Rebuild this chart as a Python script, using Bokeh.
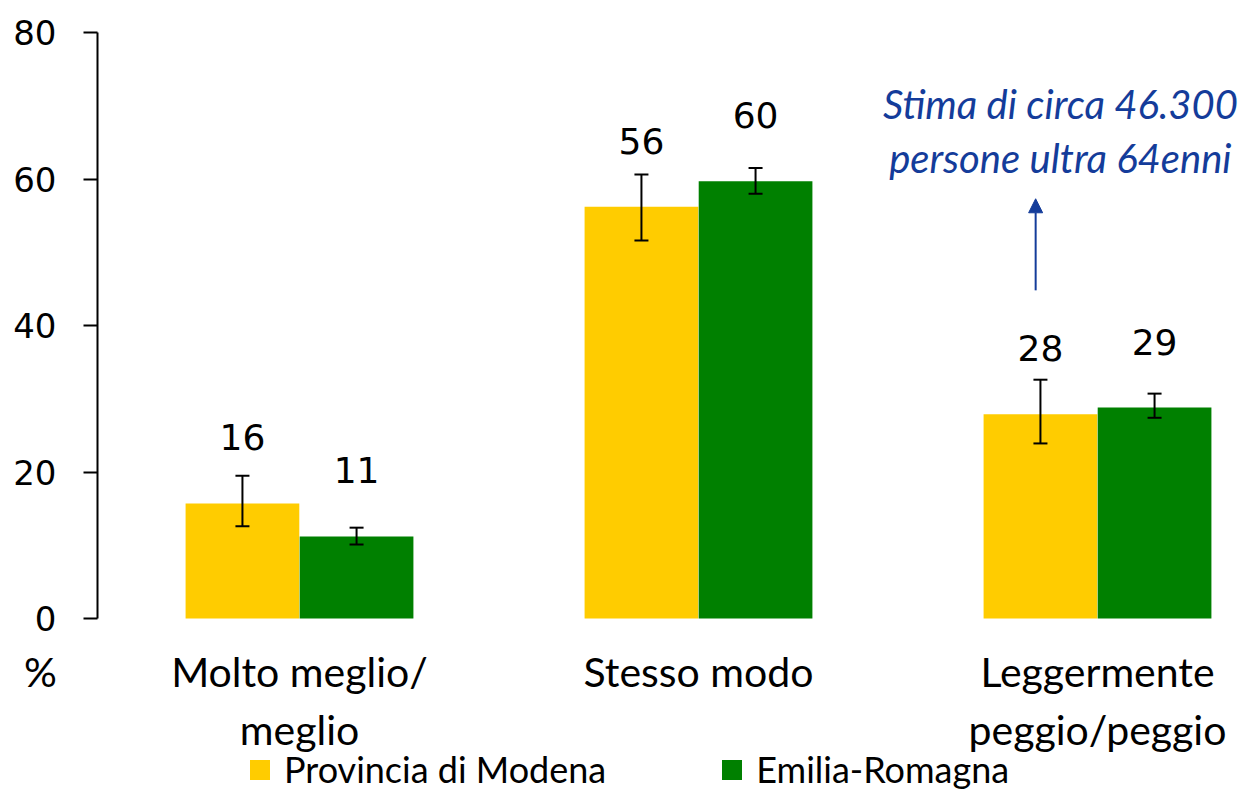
from bokeh.plotting import figure
from bokeh.models import (ColumnDataSource, Range1d, FixedTicker, Whisker, TeeHead,
                          Legend, LegendItem, Arrow, NormalHead, Label)
from bokeh.core.properties import value
from bokeh.embed import file_html
from bokeh.resources import INLINE

categories = ["Molto meglio/\nmeglio", "Stesso modo", "Leggermente\npeggio/peggio"]
series_names = ["Provincia di Modena", "Emilia-Romagna"]
modena = [15.7, 56.2, 27.9]
modena_lo = [12.6, 51.6, 23.9]
modena_hi = [19.5, 60.6, 32.6]
emilia = [11.2, 59.7, 28.8]
emilia_lo = [10.1, 58.0, 27.4]
emilia_hi = [12.4, 61.5, 30.7]
y_ticks = [0, 20, 40, 60, 80]
y_unit = "%"
note_lines = ["Stima di circa 46.300", "persone ultra 64enni"]

YELLOW = "#FFCC00"
GREEN = "#008000"
BLUE = "#143C9A"
CAL = "Lato"

idx = list(range(len(categories)))
off = 0.143
bw = 0.285

# layout geometry (pixels)
W, H = 1240, 794
px_per_cat = 399.0
x0_px = 299.0          # pixel position of first category
axis_px = 97.0         # pixel position of y axis
y_top_px, y_bot_px = 32.0, 618.0
y_max = 80.0
ppu = (y_bot_px - y_top_px) / y_max

x_lo = (0 - x0_px) / px_per_cat
x_hi = (W - x0_px) / px_per_cat
y_hi = y_max + y_top_px / ppu
y_lo = -(H - y_bot_px) / ppu
y_axis_x = (axis_px - x0_px) / px_per_cat
unit_x = (40 - x0_px) / px_per_cat

p = figure(frame_width=W, frame_height=H, output_backend="svg", toolbar_location=None,
           x_range=Range1d(x_lo, x_hi), y_range=Range1d(y_lo, y_hi),
           min_border=0)
p.outline_line_color = None
p.xgrid.visible = False
p.ygrid.visible = False

src_m = ColumnDataSource(dict(x=[i - off for i in idx], top=modena, lo=modena_lo, hi=modena_hi,
                              lab=[str(round(v)) for v in modena]))
src_e = ColumnDataSource(dict(x=[i + off for i in idx], top=emilia, lo=emilia_lo, hi=emilia_hi,
                              lab=[str(round(v)) for v in emilia]))

r_m = p.vbar(x="x", top="top", bottom=0, width=bw, source=src_m, fill_color=YELLOW, line_color=None)
r_e = p.vbar(x="x", top="top", bottom=0, width=bw, source=src_e, fill_color=GREEN, line_color=None)

for src in (src_m, src_e):
    w = Whisker(base="x", lower="lo", upper="hi", source=src, line_color="black", line_width=2,
                level="overlay",
                upper_head=TeeHead(size=14, line_color="black", line_width=2),
                lower_head=TeeHead(size=14, line_color="black", line_width=2))
    p.add_layout(w)
    p.text(x="x", y="top", text="lab", source=src, text_align="center", text_baseline="middle",
           y_offset=-66, text_font=value("DejaVu Sans"), text_font_size="36px", text_color="black")

# y axis (drawn at a fixed data position)
p.yaxis.fixed_location = y_axis_x
p.yaxis.bounds = (0, y_max)
p.yaxis.ticker = FixedTicker(ticks=y_ticks)
p.yaxis.axis_line_color = "black"
p.yaxis.axis_line_width = 2
p.yaxis.major_tick_line_color = "black"
p.yaxis.major_tick_line_width = 2
p.yaxis.major_tick_out = 14
p.yaxis.major_tick_in = 0
p.yaxis.minor_tick_line_color = None
p.yaxis.major_label_standoff = 27
p.yaxis.major_label_text_font = "DejaVu Sans"
p.yaxis.major_label_text_font_size = "34px"
p.yaxis.major_label_text_color = "black"

# x axis (at y = 0)
p.xaxis.fixed_location = 0
p.xaxis.ticker = FixedTicker(ticks=[unit_x] + idx)
overrides = {i: c for i, c in zip(idx, categories)}
overrides[unit_x] = y_unit
p.xaxis.major_label_overrides = overrides
p.xaxis.axis_line_color = None
p.xaxis.major_tick_line_color = None
p.xaxis.minor_tick_line_color = None
p.xaxis.major_label_standoff = 22
p.xaxis.major_label_text_font = CAL
p.xaxis.major_label_text_font_size = "41px"
p.xaxis.major_label_text_color = "black"

# annotation arrow and text
p.add_layout(Arrow(x_start=1.845, y_start=44.8, x_end=1.845, y_end=57.3,
                   line_color=BLUE, line_width=2,
                   end=NormalHead(size=14, fill_color=BLUE, line_color=BLUE)))
for t, yy in zip(note_lines, [70.3, 62.8]):
    p.add_layout(Label(x=1.907, y=yy, text=t, text_align="center", text_baseline="middle",
                       text_font=CAL, text_font_style="italic", text_font_size="40px",
                       text_color=BLUE))

legend = Legend(items=[LegendItem(label=series_names[0], renderers=[r_m]),
                       LegendItem(label=series_names[1], renderers=[r_e])],
                orientation="horizontal", location=(247, 3),
                border_line_color=None, background_fill_alpha=0,
                padding=0, margin=0, spacing=113, label_standoff=12,
                glyph_width=25, glyph_height=25,
                label_text_font=CAL, label_text_font_size="36px", label_text_color="black")
p.add_layout(legend)

open("out.html", "w").write(file_html(p, INLINE))
